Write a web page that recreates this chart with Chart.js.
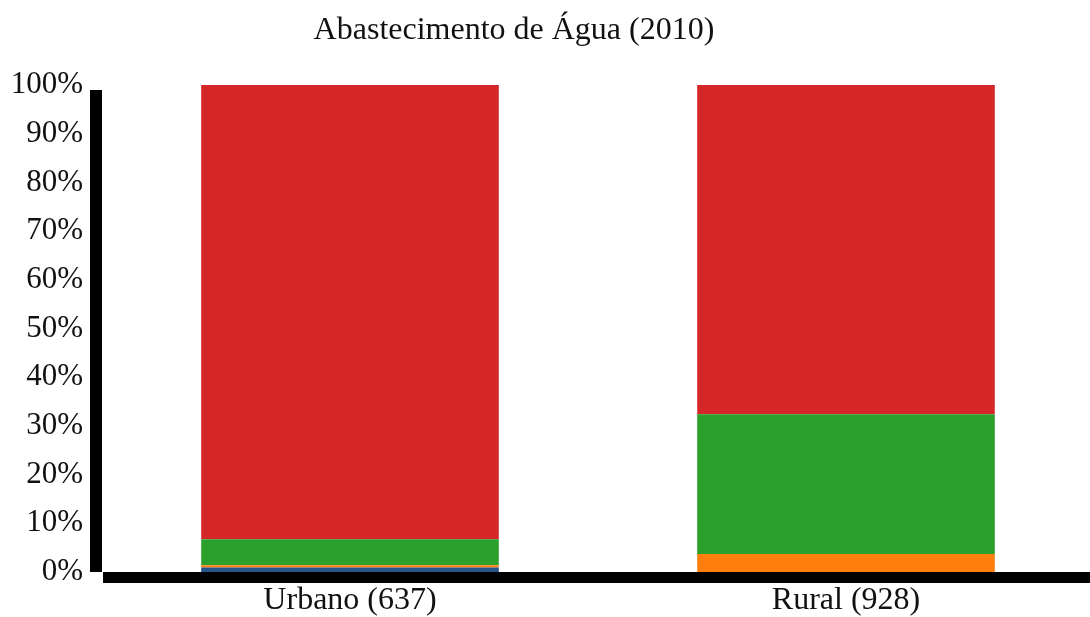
<!DOCTYPE html>
<html>
<head>
<meta charset="utf-8">
<script src="https://cdn.jsdelivr.net/npm/chart.js@4"></script>
<style>
  html, body { margin: 0; padding: 0; background: #fff; overflow: hidden; }
  #wrap { width: 1096px; height: 617px; }
</style>
</head>
<body>
<div id="wrap"><canvas id="chart"></canvas></div>
<script>
// Data (percent of households per area)
const titleText = 'Abastecimento de Água (2010)';
const categories = ['Urbano (637)', 'Rural (928)'];
const seriesBlue = [0.9, 0];
const seriesOrange = [0.5, 3.7];
const seriesGreen = [5.3, 28.7];
const seriesRed = [93.3, 67.6];
const yTicks = [0, 10, 20, 30, 40, 50, 60, 70, 80, 90, 100];

const serif = "'Liberation Serif', 'Times New Roman', serif";

// thick black axis lines + title, drawn relative to the chart area
const axesPlugin = {
    id: 'axesPlugin',
    afterDatasetsDraw(chart) {
        const { ctx, chartArea } = chart;
        ctx.save();
        ctx.fillStyle = '#000';
        ctx.fillRect(chartArea.left - 12, chartArea.top + 5, 12, chartArea.bottom - chartArea.top - 5);
        ctx.fillRect(chartArea.left + 1, chartArea.bottom, chartArea.right - chartArea.left, 11);
        ctx.font = '32px ' + serif;
        ctx.textAlign = 'center';
        ctx.textBaseline = 'middle';
        ctx.fillStyle = '#111';
        ctx.fillText(titleText, 514, 31);
        ctx.restore();
    }
};

new Chart(document.getElementById('chart'), {
    type: 'bar',
    data: {
        labels: categories,
        datasets: [
            { label: 'A', data: seriesBlue, backgroundColor: '#23548a' },
            { label: 'B', data: seriesOrange, backgroundColor: '#ff7f0e' },
            { label: 'C', data: seriesGreen, backgroundColor: '#2ca02c' },
            { label: 'D', data: seriesRed, backgroundColor: '#d62728' }
        ]
    },
    options: {
        responsive: true,
        maintainAspectRatio: false,
        animation: false,
        layout: { padding: { left: 13, right: 2, top: 85, bottom: 0 } },
        datasets: { bar: { barPercentage: 0.6, categoryPercentage: 1.0 } },
        plugins: {
            legend: { display: false },
            title: { display: false },
            tooltip: { enabled: false }
        },
        scales: {
            x: {
                stacked: true,
                grid: { display: false, drawTicks: false },
                border: { display: false },
                ticks: { color: '#111', padding: 9, font: { family: serif, size: 32 } },
                afterFit: s => { s.height = 45; }
            },
            y: {
                stacked: true,
                min: 0,
                max: 100,
                grid: { display: false, drawTicks: false },
                border: { display: false },
                afterBuildTicks: s => { s.ticks = yTicks.map(v => ({ value: v })); },
                ticks: {
                    color: '#111',
                    padding: 19,
                    font: { family: serif, size: 31 },
                    callback: v => v + '%'
                },
                afterFit: s => { s.width = 89; }
            }
        }
    },
    plugins: [axesPlugin]
});
</script>
</body>
</html>
